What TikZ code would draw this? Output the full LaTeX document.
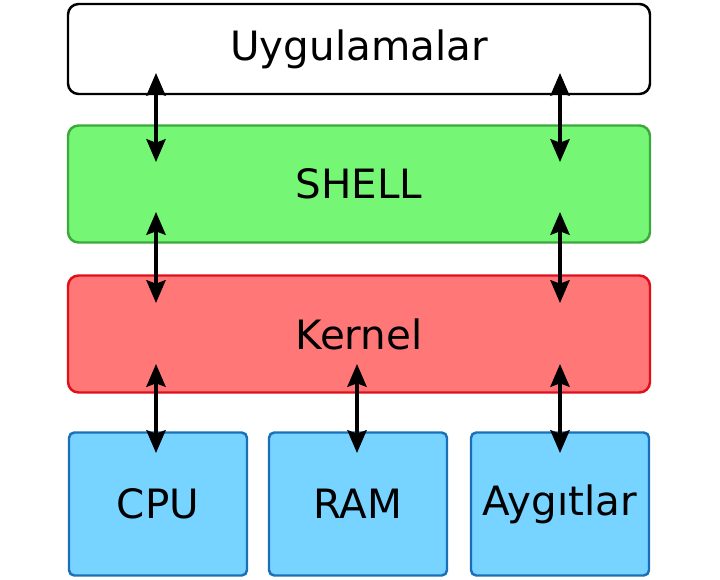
\documentclass[tikz,border=0pt]{standalone}
\usepackage{fontspec}
\setmainfont{DejaVu Sans}
\usetikzlibrary{arrows.meta}

\definecolor{shellfill}{HTML}{75F775}
\definecolor{shelldraw}{HTML}{3DA83D}
\definecolor{kernfill}{HTML}{FF7777}
\definecolor{kerndraw}{HTML}{E0101A}
\definecolor{hwfill}{HTML}{77D3FF}
\definecolor{hwdraw}{HTML}{1A70B8}

\tikzset{
	layer/.style={rectangle, rounded corners=6pt, line width=1.4pt, minimum width=582*0.02cm, font=\fontsize{23}{28}\selectfont},
	hwbox/.style={rectangle, rounded corners=3pt, line width=1.4pt, fill=hwfill, draw=hwdraw, minimum width=178*0.02cm, minimum height=143*0.02cm, font=\fontsize{23}{28}\selectfont},
	biarrow/.style={line width=1.8pt, {Stealth[length=13pt,width=11pt,inset=2pt]}-{Stealth[length=13pt,width=11pt,inset=2pt]}}
}

\begin{document}
\begin{tikzpicture}[x=0.02cm, y=-0.02cm]
			\useasboundingbox (0, 0) rectangle (720, 580);
			
			% katmanlar
			\node[layer, draw=black, fill=white, minimum height=90*0.02cm] (app) at (359, 49) {Uygulamalar};
			\node[layer, draw=shelldraw, fill=shellfill, minimum height=117*0.02cm] (shell) at (359, 184) {SHELL};
			\node[layer, draw=kerndraw, fill=kernfill, minimum height=117*0.02cm] (kernel) at (359, 334) {Kernel};
			
			% donanim
			\node[hwbox] (cpu) at (158, 504) {CPU};
			\node[hwbox] (ram) at (358, 504) {RAM};
			\node[hwbox] (dev) at (560, 504) {Aygıtlar};
			
			\coordinate (a1) at (156, 73);
			\coordinate (b1) at (156, 162);
			\coordinate (a2) at (560, 73);
			\coordinate (b2) at (560, 162);
			\coordinate (c1) at (156, 212);
			\coordinate (d1) at (156, 303);
			\coordinate (c2) at (560, 212);
			\coordinate (d2) at (560, 303);
			\coordinate (e1) at (156, 364);
			\coordinate (f1) at (156, 453);
			\coordinate (e2) at (357, 364);
			\coordinate (f2) at (357, 453);
			\coordinate (e3) at (560, 364);
			\coordinate (f3) at (560, 453);
			
			\draw[biarrow] (a1) -- (b1);
			\draw[biarrow] (a2) -- (b2);
			\draw[biarrow] (c1) -- (d1);
			\draw[biarrow] (c2) -- (d2);
			\draw[biarrow] (e1) -- (f1);
			\draw[biarrow] (e2) -- (f2);
			\draw[biarrow] (e3) -- (f3);
		\end{tikzpicture}
\end{document}
